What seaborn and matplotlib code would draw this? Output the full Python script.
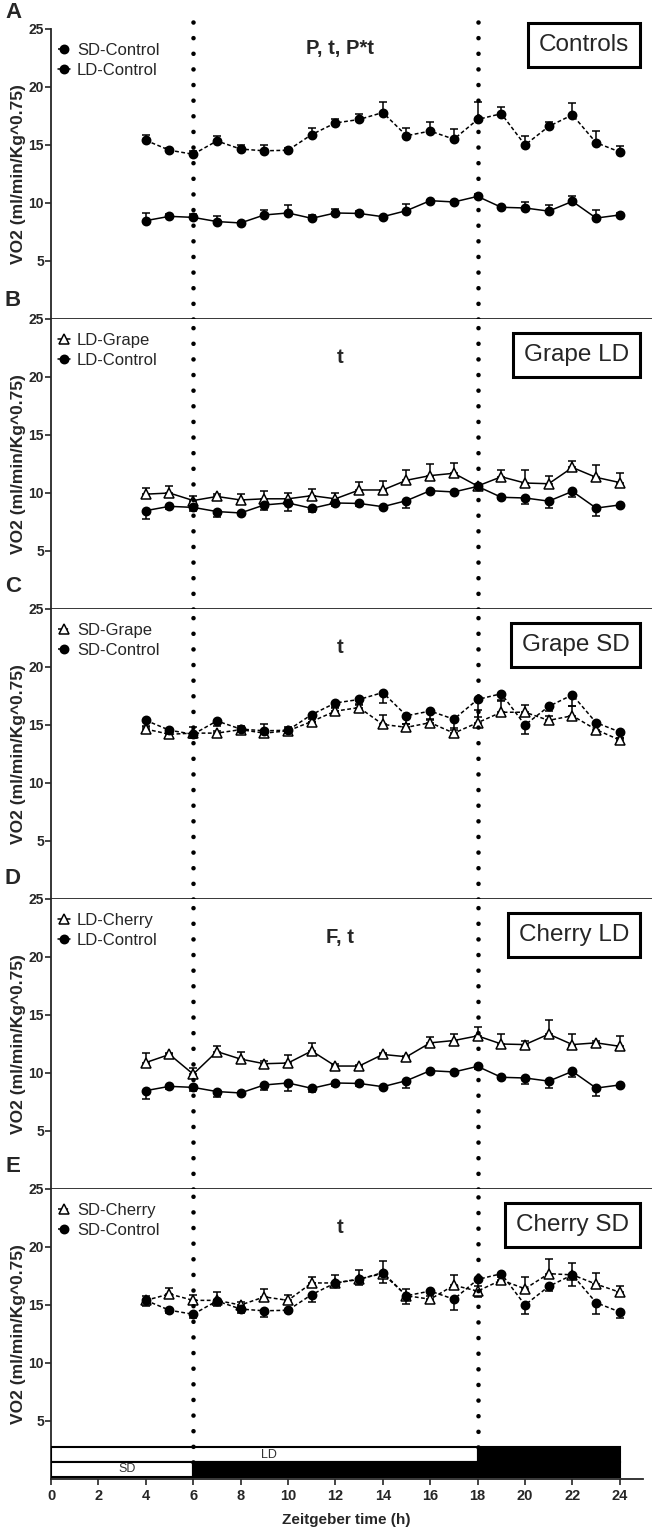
import numpy as np
import matplotlib
matplotlib.use("Agg")
import matplotlib.pyplot as plt
import seaborn as sns

sns.set_style("ticks")
plt.rcParams['font.family'] = ['Liberation Sans', 'DejaVu Sans']

# Zeitgeber time (h)
hours = [4, 5, 6, 7, 8, 9, 10, 11, 12, 13, 14, 15, 16, 17, 18, 19, 20, 21, 22, 23, 24]

# VO2 means and SEM for every group
sd_control = [15.4, 14.55, 14.2, 15.35, 14.65, 14.5, 14.55, 15.9, 16.9, 17.2, 17.8,
              15.8, 16.2, 15.5, 17.2, 17.7, 15.0, 16.6, 17.6, 15.2, 14.4]
sd_control_err = [0.5, 0.2, 0.3, 0.45, 0.35, 0.5, 0.15, 0.6, 0.35, 0.5, 0.9,
                  0.7, 0.8, 0.9, 1.5, 0.6, 0.8, 0.4, 1.0, 1.0, 0.5]
ld_control = [8.48, 8.85, 8.76, 8.4, 8.28, 8.97, 9.14, 8.68, 9.14, 9.1, 8.82,
              9.34, 10.2, 10.09, 10.57, 9.63, 9.57, 9.3, 10.14, 8.7, 8.97]
ld_control_err = [0.7, 0.2, 0.3, 0.45, 0.1, 0.45, 0.65, 0.3, 0.3, 0.25, 0.1,
                  0.6, 0.1, 0.1, 0.2, 0.15, 0.5, 0.55, 0.5, 0.7, 0.2]
ld_grape = [9.9, 10.0, 9.35, 9.7, 9.4, 9.5, 9.5, 9.77, 9.5, 10.26, 10.26,
            11.1, 11.5, 11.7, 10.6, 11.4, 10.86, 10.8, 12.2, 11.35, 10.9]
ld_grape_err = [0.5, 0.6, 0.35, 0.2, 0.5, 0.65, 0.5, 0.6, 0.5, 0.7, 0.8,
                0.85, 1.0, 0.9, 0.2, 0.6, 1.1, 0.7, 0.6, 1.1, 0.8]
sd_grape = [14.65, 14.2, 14.3, 14.3, 14.6, 14.3, 14.5, 15.3, 16.2, 16.5, 15.05,
            14.8, 15.2, 14.3, 15.2, 16.1, 16.1, 15.4, 15.8, 14.6, 13.7]
sd_grape_err = [0.2, 0.2, 0.55, 0.2, 0.3, 0.8, 0.3, 0.2, 0.3, 0.3, 0.8,
                0.3, 0.3, 0.4, 1.1, 1.05, 0.65, 0.4, 0.8, 0.6, 0.2]
ld_cherry = [10.9, 11.6, 9.9, 11.85, 11.2, 10.8, 10.86, 11.9, 10.6, 10.6, 11.6,
             11.4, 12.6, 12.8, 13.2, 12.5, 12.45, 13.35, 12.45, 12.6, 12.3]
ld_cherry_err = [0.8, 0.1, 0.55, 0.5, 0.6, 0.2, 0.7, 0.65, 0.15, 0.1, 0.1,
                 0.1, 0.5, 0.6, 0.8, 0.9, 0.35, 1.2, 0.9, 0.15, 0.85]
sd_cherry = [15.4, 15.95, 15.4, 15.4, 15.0, 15.7, 15.4, 16.9, 16.9, 17.25, 17.7,
             15.8, 15.5, 16.7, 16.2, 17.15, 16.4, 17.7, 17.6, 16.8, 16.1]
sd_cherry_err = [0.4, 0.5, 0.5, 0.7, 0.3, 0.65, 0.45, 0.5, 0.7, 0.8, 1.1,
                 0.6, 0.3, 0.9, 0.4, 0.3, 1.0, 1.3, 1.0, 1.0, 0.55]

panel_letters = ['A', 'B', 'C', 'D', 'E']
panel_titles = ['Controls', 'Grape LD', 'Grape SD', 'Cherry LD', 'Cherry SD']
panel_stats = ['P, t, P*t', 't', 't', 'F, t', 't']

# light schedule bars (start, length)
ld_starts = [0, 18]
ld_lengths = [18, 6]
sd_starts = [0, 6]
sd_lengths = [6, 18]

# (label, values, err, marker, filled, dashed, err_dir)
panels = [
    [('SD-Control', sd_control, sd_control_err, 'o', True, True, 1),
     ('LD-Control', ld_control, ld_control_err, 'o', True, False, 1)],
    [('LD-Grape', ld_grape, ld_grape_err, '^', False, False, 1),
     ('LD-Control', ld_control, ld_control_err, 'o', True, False, -1)],
    [('SD-Grape', sd_grape, sd_grape_err, '^', False, True, 1),
     ('SD-Control', sd_control, sd_control_err, 'o', True, True, -1)],
    [('LD-Cherry', ld_cherry, ld_cherry_err, '^', False, False, 1),
     ('LD-Control', ld_control, ld_control_err, 'o', True, False, -1)],
    [('SD-Cherry', sd_cherry, sd_cherry_err, '^', False, True, 1),
     ('SD-Control', sd_control, sd_control_err, 'o', True, True, -1)],
]

W, H = 652, 1532
fig = plt.figure(figsize=(W / 100, H / 100), dpi=100)

top_px = 29
panel_h = 290
left_px = 51
px_per_h = 23.7
xmax = (W - left_px) / px_per_h
letter_y = [13, 301, 587, 879, 1167]

dots = (0, (0.01, 3.4))

axes = []
for i in range(5):
    y0 = top_px + i * panel_h
    ax = fig.add_axes([left_px / W, 1 - (y0 + panel_h) / H, 1 - left_px / W, panel_h / H])
    axes.append(ax)
    ax.set_xlim(0, xmax)
    ax.set_ylim(0, 25)
    sns.despine(ax=ax, top=True, right=True)
    for sp in ['left', 'bottom']:
        ax.spines[sp].set_linewidth(1.3)
    ax.set_yticks([5, 10, 15, 20, 25])
    ax.tick_params(axis='y', length=4, width=1.2, pad=1, labelsize=10)
    for t in ax.get_yticklabels():
        t.set_fontweight('bold')

    for label, vals, err, mk, filled, dashed, edir in panels[i]:
        e = np.array(err)
        z = np.zeros_like(e)
        yerr = [z, e] if edir > 0 else [e, z]
        ax.errorbar(hours, vals, yerr=yerr, fmt='none', ecolor='black',
                    elinewidth=1.1, capsize=3, capthick=1.1, zorder=2)
        sns.lineplot(x=hours, y=vals, ax=ax, color='black', lw=1.1,
                     linestyle=(0, (2.5, 1.6)) if dashed else '-',
                     marker=mk, markersize=6 if mk == 'o' else 6.5,
                     markerfacecolor='black' if filled else 'white',
                     markeredgecolor='black', markeredgewidth=1.1,
                     label=label, zorder=3)

    handles, labels = ax.get_legend_handles_labels()
    ax.legend(handles, labels, loc='upper left', bbox_to_anchor=(0.0, 0.976),
              frameon=False, fontsize=12, handlelength=0.75, handletextpad=0.4,
              labelspacing=0.32, borderaxespad=0.1, borderpad=0.3, numpoints=1)

    ty = 23.3 if i == 0 else 21.7
    ax.text(12.2, ty, panel_stats[i], ha='center', va='center',
            fontsize=14.5, fontweight='bold')
    by = 23.6 if i == 0 else 21.9
    ax.text(24.4, by, panel_titles[i], ha='right', va='center', fontsize=17.5,
            bbox=dict(boxstyle='square,pad=0.45', fc='white', ec='black', lw=2.2))

    fig.text(13 / W, 1 - letter_y[i] / H, panel_letters[i],
             ha='center', va='center', fontsize=16, fontweight='bold')

    ax.set_ylabel('VO2 (ml/min/Kg^0.75)', fontsize=12.5, fontweight='bold')
    ax.yaxis.set_label_coords(-(left_px - 26) / (W - left_px), 0.5)

    if i < 4:
        ax.set_xticks([])
        ymax = 1.025 if i == 0 else 1.0
        ax.axvline(6, ymin=0, ymax=ymax, color='black', lw=3.3, linestyle=dots,
                   dash_capstyle='round', clip_on=False, zorder=5)
        ax.axvline(18, ymin=0, ymax=ymax + 0.01, color='black', lw=3.3, linestyle=dots,
                   dash_capstyle='round', clip_on=False, zorder=5)

ax = axes[-1]
ax.barh([2.1, 2.1], ld_lengths, left=ld_starts, height=1.3,
        color=['white', 'black'], edgecolor='black', lw=1.5, zorder=4)
ax.barh([0.82, 0.82], sd_lengths, left=sd_starts, height=1.3,
        color=['white', 'black'], edgecolor='black', lw=1.5, zorder=4)
ax.text(9.2, 2.1, 'LD', ha='center', va='center', fontsize=9, color='#333333', zorder=6)
ax.text(3.2, 0.82, 'SD', ha='center', va='center', fontsize=9, color='#333333', zorder=6)
ax.axvline(6, ymin=1.45 / 25, ymax=1.0, color='black', lw=3.3, linestyle=dots,
           dash_capstyle='round', zorder=5)
ax.axvline(18, ymin=2.8 / 25, ymax=1.0, color='black', lw=3.3, linestyle=dots,
           dash_capstyle='round', zorder=5)
ax.spines['bottom'].set_bounds(0, 25)
ax.set_xticks(np.arange(0, 25, 2))
ax.tick_params(axis='x', length=4, width=1.2, pad=3, labelsize=10.5)
for t in ax.get_xticklabels():
    t.set_fontweight('bold')
ax.set_xlabel('Zeitgeber time (h)', fontsize=11, fontweight='bold')
ax.xaxis.set_label_coords((346 - left_px) / (W - left_px), -0.118)

fig.savefig('out.png', dpi=100)
